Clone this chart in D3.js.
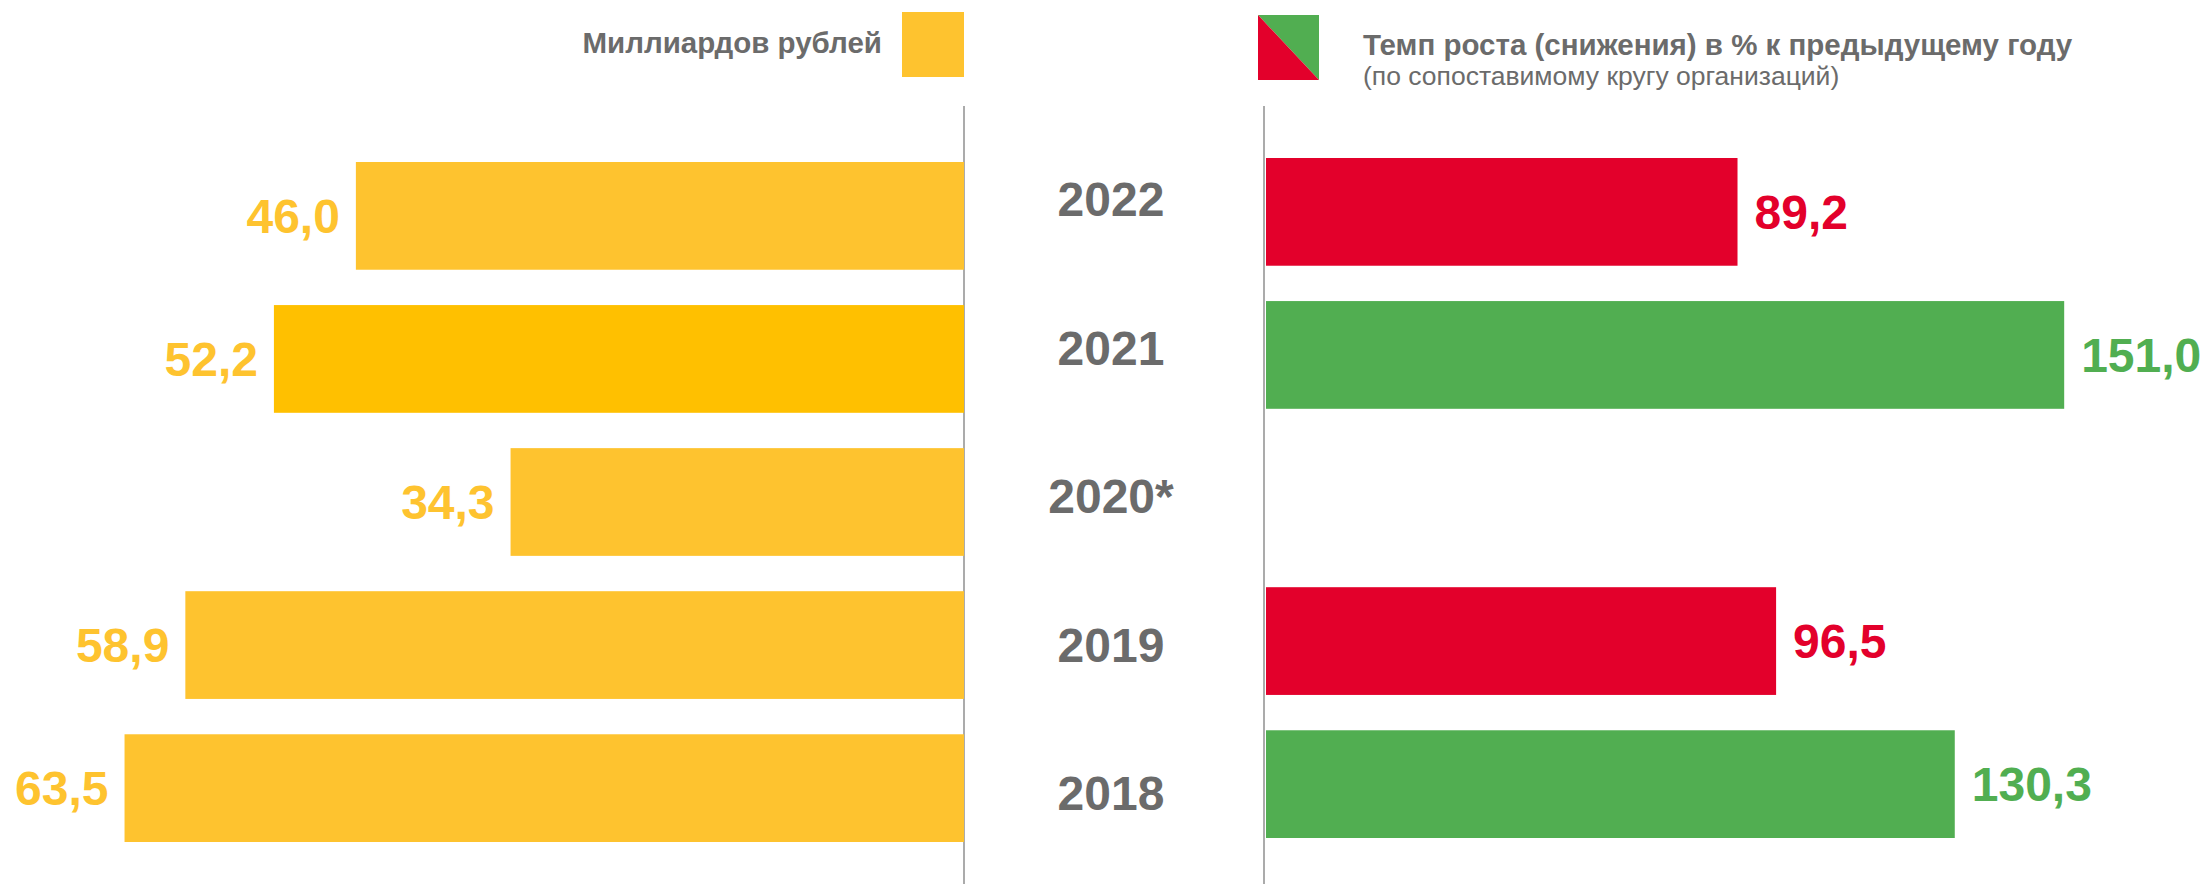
<!DOCTYPE html>
<html>
<head>
<meta charset="utf-8">
<script src="https://cdn.jsdelivr.net/npm/d3@7"></script>
<style>
  html, body { margin: 0; padding: 0; background: #fff; }
  svg { display: block; font-family: "Liberation Sans", Arial, sans-serif; }
</style>
</head>
<body>
<div id="chart"></div>
<script>
// data
const years = ["2022", "2021", "2020*", "2019", "2018"];
const amounts = [46.0, 52.2, 34.3, 58.9, 63.5];          // млрд руб.
const growth = [89.2, 151.0, null, 96.5, 130.3];         // % к предыдущему году
const highlightYear = "2021";
const leftLegend = "Миллиардов рублей";
const rightLegend = "Темп роста (снижения) в % к предыдущему году";
const rightLegendSub = "(по сопоставимому кругу организаций)";

const width = 2202, height = 884;
const leftAxisX = 964, rightAxisX = 1264;

const colors = {
  yellow: "#fec32f",
  yellowHi: "#ffc000",
  red: "#e3002b",
  green: "#51ae51",
  gray: "#6b6b6b",
  axis: "#8f8f8f"
};

const svg = d3.select("#chart").append("svg")
  .attr("width", width)
  .attr("height", height);

const rows = years.map((y, i) => ({ year: y, amount: amounts[i], growth: growth[i] }));

const y = d3.scaleBand()
  .domain(years)
  .range([162, 842])
  .paddingInner(0.247)
  .paddingOuter(0);

// year labels sit a bit off the bar centres in the original
const yLabel = d3.scalePoint()
  .domain(years)
  .range([199, 793]);

const xLeft = d3.scaleLinear().domain([0, 70]).range([leftAxisX, leftAxisX - 70 * 13.22]);
const xRight = d3.scaleLinear().domain([0, 160]).range([rightAxisX + 2, rightAxisX + 2 + 160 * 5.286]);

// axis lines
svg.append("g")
  .attr("stroke", colors.axis)
  .attr("stroke-width", 1.5)
  .selectAll("line")
  .data([leftAxisX, rightAxisX])
  .join("line")
  .attr("x1", d => d).attr("x2", d => d)
  .attr("y1", 106).attr("y2", height);

// left bars
svg.append("g")
  .selectAll("rect")
  .data(rows)
  .join("rect")
  .attr("x", d => xLeft(d.amount))
  .attr("y", d => y(d.year))
  .attr("width", d => xLeft(0) - xLeft(d.amount))
  .attr("height", y.bandwidth())
  .attr("fill", d => d.year === highlightYear ? colors.yellowHi : colors.yellow);

svg.append("g")
  .attr("font-size", 48)
  .attr("font-weight", "bold")
  .attr("fill", colors.yellow)
  .attr("text-anchor", "end")
  .selectAll("text")
  .data(rows)
  .join("text")
  .attr("x", d => xLeft(d.amount) - 16)
  .attr("y", d => y(d.year) + y.bandwidth() / 2)
  .attr("dy", "0.36em")
  .text(d => d3.format(".1f")(d.amount).replace(".", ","));

// right bars
const growthRows = rows.filter(d => d.growth != null);

svg.append("g")
  .selectAll("rect")
  .data(growthRows)
  .join("rect")
  .attr("x", xRight(0))
  .attr("y", d => y(d.year) - 4)
  .attr("width", d => xRight(d.growth) - xRight(0))
  .attr("height", y.bandwidth())
  .attr("fill", d => d.growth < 100 ? colors.red : colors.green);

svg.append("g")
  .attr("font-size", 48)
  .attr("font-weight", "bold")
  .selectAll("text")
  .data(growthRows)
  .join("text")
  .attr("x", d => xRight(d.growth) + 17)
  .attr("y", d => y(d.year) - 4 + y.bandwidth() / 2)
  .attr("dy", "0.36em")
  .attr("fill", d => d.growth < 100 ? colors.red : colors.green)
  .text(d => d3.format(".1f")(d.growth).replace(".", ","));

// year labels
svg.append("g")
  .attr("font-size", 48)
  .attr("font-weight", "bold")
  .attr("fill", colors.gray)
  .attr("text-anchor", "middle")
  .selectAll("text")
  .data(years)
  .join("text")
  .attr("x", (leftAxisX + rightAxisX) / 2 - 3)
  .attr("y", d => yLabel(d))
  .attr("dy", "0.36em")
  .text(d => d);

// legends
svg.append("rect")
  .attr("x", 902).attr("y", 12)
  .attr("width", 62).attr("height", 65)
  .attr("fill", colors.yellow);

svg.append("text")
  .attr("x", 882).attr("y", 53)
  .attr("text-anchor", "end")
  .attr("font-size", 29.5)
  .attr("font-weight", "bold")
  .attr("fill", colors.gray)
  .text(leftLegend);

const lg = svg.append("g").attr("transform", "translate(1258,15)");
lg.append("path").attr("d", "M0,0L61,0L61,65Z").attr("fill", colors.green);
lg.append("path").attr("d", "M0,0L61,65L0,65Z").attr("fill", colors.red);

svg.append("text")
  .attr("x", 1363).attr("y", 55)
  .attr("font-size", 29.5)
  .attr("font-weight", "bold")
  .attr("fill", colors.gray)
  .text(rightLegend);

svg.append("text")
  .attr("x", 1363).attr("y", 85)
  .attr("font-size", 26.5)
  .attr("fill", colors.gray)
  .text(rightLegendSub);
</script>
</body>
</html>
